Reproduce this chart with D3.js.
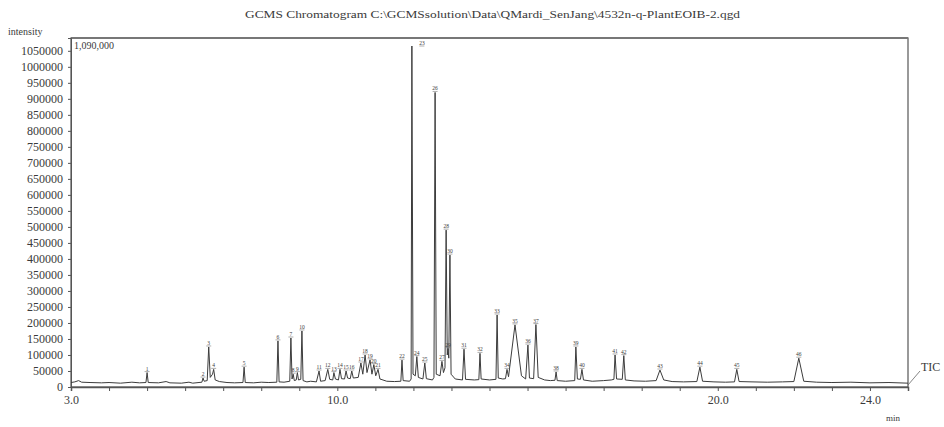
<!DOCTYPE html>
<html>
<head>
<meta charset="utf-8">
<script src="https://cdn.jsdelivr.net/npm/d3@7/dist/d3.min.js"></script>
<style>
  html, body { margin: 0; padding: 0; background: #fff; }
  svg { display: block; }
  text { font-family: "Liberation Serif", "Times New Roman", serif; fill: #3a3a3a; }
</style>
</head>
<body>
<svg id="chart" width="944" height="427"></svg>
<script>
// Total ion chromatogram trace: [retention time (min), intensity]
const trace = [
  [3.00, 14000], [3.10, 16000], [3.20, 20000], [3.28, 15000], [3.50, 14000], [3.80, 13000],
  [4.00, 14000], [4.30, 12000], [4.60, 15000], [4.80, 13000], [4.97, 14000], [5.00, 45000],
  [5.03, 14000], [5.30, 13000], [5.50, 17000], [5.60, 13000], [5.90, 12000], [6.10, 15000],
  [6.20, 12000], [6.44, 15000], [6.47, 28000], [6.50, 18000], [6.58, 20000], [6.62, 125000],
  [6.66, 30000], [6.72, 40000], [6.75, 55000], [6.79, 22000], [6.90, 17000], [7.10, 14000],
  [7.30, 13000], [7.52, 14000], [7.55, 62000], [7.58, 14000], [7.80, 13000], [8.00, 15000],
  [8.20, 14000], [8.41, 15000], [8.44, 144000], [8.47, 16000], [8.60, 15000], [8.75, 18000],
  [8.78, 153000], [8.81, 25000], [8.84, 40000], [8.87, 20000], [8.92, 22000], [8.95, 45000],
  [8.98, 22000], [9.04, 24000], [9.07, 175000], [9.10, 20000], [9.20, 16000], [9.30, 18000],
  [9.45, 16000], [9.52, 50000], [9.56, 18000], [9.68, 20000], [9.75, 55000], [9.80, 24000],
  [9.88, 22000], [9.91, 45000], [9.95, 25000], [10.03, 22000], [10.07, 55000], [10.11, 26000],
  [10.19, 25000], [10.23, 50000], [10.27, 28000], [10.34, 26000], [10.38, 50000], [10.42, 28000],
  [10.55, 30000], [10.62, 75000], [10.67, 40000], [10.73, 100000], [10.78, 45000], [10.86, 85000],
  [10.91, 40000], [10.96, 70000], [11.01, 35000], [11.07, 55000], [11.12, 25000], [11.30, 18000],
  [11.50, 17000], [11.67, 18000], [11.70, 84000], [11.73, 20000], [11.90, 18000], [11.94, 25000],
  [11.96, 1065000], [11.99, 40000], [12.05, 35000], [12.09, 95000], [12.13, 30000], [12.25, 25000],
  [12.30, 75000], [12.34, 26000], [12.50, 22000], [12.54, 30000], [12.57, 920000], [12.60, 40000],
  [12.70, 35000], [12.75, 80000], [12.79, 45000], [12.83, 60000], [12.86, 490000], [12.89, 100000],
  [12.91, 120000], [12.93, 90000], [12.96, 412000], [12.99, 40000], [13.10, 25000], [13.29, 22000],
  [13.33, 118000], [13.37, 24000], [13.60, 22000], [13.72, 23000], [13.75, 105000], [13.78, 25000],
  [14.00, 22000], [14.17, 24000], [14.20, 225000], [14.23, 28000], [14.35, 25000], [14.42, 26000],
  [14.46, 55000], [14.50, 32000], [14.67, 194000], [14.84, 35000], [14.95, 25000], [15.01, 131000],
  [15.05, 28000], [15.16, 26000], [15.22, 195000], [15.28, 30000], [15.45, 22000], [15.60, 20000],
  [15.72, 21000], [15.75, 47000], [15.78, 20000], [16.00, 18000], [16.24, 20000], [16.27, 125000],
  [16.31, 25000], [16.39, 24000], [16.43, 55000], [16.47, 22000], [16.70, 18000], [17.00, 20000],
  [17.20, 22000], [17.27, 24000], [17.30, 100000], [17.34, 25000], [17.49, 24000], [17.53, 98000],
  [17.57, 22000], [17.80, 19000], [18.10, 18000], [18.38, 20000], [18.48, 53000], [18.58, 22000],
  [18.80, 17000], [19.10, 16000], [19.45, 17000], [19.53, 62000], [19.60, 18000], [19.90, 16000],
  [20.20, 15000], [20.44, 16000], [20.50, 55000], [20.56, 17000], [20.90, 16000], [21.30, 15000],
  [21.70, 16000], [22.00, 17000], [22.13, 90000], [22.26, 18000], [22.60, 15000], [23.00, 14000],
  [23.50, 15000], [24.00, 13000], [24.50, 14000], [25.00, 12000]
];

// Retention times of the annotated peaks
const peakTimes = [
  5.00, 6.47, 6.62, 6.75, 7.55, 8.44, 8.78, 8.84, 8.95, 9.07, 9.52, 9.75, 9.91, 10.07, 10.23,
  10.38, 10.62, 10.73, 10.86, 10.96, 11.07, 11.70, 11.96, 12.09, 12.30, 12.57, 12.75, 12.86,
  12.91, 12.96, 13.33, 13.75, 14.20, 14.46, 14.67, 15.01, 15.22, 15.75, 16.27, 16.43, 17.30,
  17.53, 18.48, 19.53, 20.50, 22.13
];
const peakLabels = peakTimes.map((t, i) => String(i + 1));

const yTicks = d3.range(0, 1050001, 50000);
const xTicks = d3.range(3, 25.01, 1);
const xLabelled = [3, 10, 20, 24];

const svg = d3.select("#chart");
const plotL = 71, plotR = 908, plotT = 38, plotB = 387;

const x = d3.scaleLinear().domain([3, 25]).range([plotL, plotR]);
const y = d3.scaleLinear().domain([0, 1090000]).range([plotB, plotT]);

// Title
svg.append("text")
  .attr("x", 245).attr("y", 18)
  .attr("font-size", 10)
  .attr("textLength", 495).attr("lengthAdjust", "spacingAndGlyphs")
  .text("GCMS Chromatogram C:\\GCMSsolution\\Data\\QMardi_SenJang\\4532n-q-PlantEOIB-2.qgd");

svg.append("text").attr("x", 8).attr("y", 35).attr("font-size", 10).text("intensity");

// Frame
svg.append("rect")
  .attr("x", plotL).attr("y", plotT)
  .attr("width", plotR - plotL).attr("height", plotB - plotT)
  .attr("fill", "none").attr("stroke", "#555").attr("stroke-width", 1.2);
svg.append("line")
  .attr("x1", plotL).attr("x2", plotR).attr("y1", plotT).attr("y2", plotT)
  .attr("stroke", "#777").attr("stroke-width", 2.2);

// Y axis
const yAxis = svg.append("g")
  .attr("transform", `translate(${plotL},0)`)
  .call(d3.axisLeft(y).tickValues(yTicks).tickSize(3).tickPadding(5).tickFormat(d3.format("d")));
yAxis.select(".domain").attr("stroke", "#555");
yAxis.selectAll(".tick line").attr("stroke", "#555");
yAxis.selectAll(".tick text")
  .attr("font-family", "Liberation Serif, serif").attr("font-size", 12).attr("fill", "#3a3a3a");

// X axis
const xAxis = svg.append("g")
  .attr("transform", `translate(0,${plotB})`)
  .call(d3.axisBottom(x).tickValues(xTicks).tickSize(4).tickPadding(4)
    .tickFormat(d => xLabelled.includes(d) ? d3.format(".1f")(d) : ""));
xAxis.select(".domain").attr("stroke", "#555").attr("stroke-width", 1.5);
xAxis.selectAll(".tick line").attr("stroke", "#555");
xAxis.selectAll(".tick text")
  .attr("font-family", "Liberation Serif, serif").attr("font-size", 12).attr("fill", "#3a3a3a");

svg.append("text").attr("x", 886).attr("y", 421).attr("font-size", 9).text("min");

// Full-scale label
svg.append("text").attr("x", 74).attr("y", 49).attr("font-size", 10).text("1,090,000");

// Chromatogram trace
svg.append("path")
  .datum(trace)
  .attr("fill", "none")
  .attr("stroke", "#3c3c3c")
  .attr("stroke-width", 1)
  .attr("stroke-linejoin", "round")
  .attr("d", d3.line().x(d => x(d[0])).y(d => y(d[1])));

// Peak number labels, placed on each apex of the trace
const apex = t => trace.reduce((a, b) => Math.abs(b[0] - t) < Math.abs(a[0] - t) ? b : a);
const lbl = svg.append("g").attr("font-size", 5.5).attr("text-anchor", "middle");
peakTimes.forEach((t, i) => {
  const p = apex(t);
  let px = x(p[0]), py = y(p[1]) - 2;
  if (py < plotT + 8) { px += 10; py = plotT + 7; }
  lbl.append("text").attr("x", px).attr("y", py).attr("fill", "#555").text(peakLabels[i]);
  lbl.append("line")
    .attr("x1", px - 2.5).attr("x2", px + 2.5)
    .attr("y1", py + 1).attr("y2", py + 1)
    .attr("stroke", "#777").attr("stroke-width", 0.6);
});

// Trace name
svg.append("line")
  .attr("x1", plotR).attr("y1", 385).attr("x2", 920).attr("y2", 371)
  .attr("stroke", "#666").attr("stroke-width", 0.8);
svg.append("text").attr("x", 921).attr("y", 371).attr("font-size", 12).text("TIC");
</script>
</body>
</html>
